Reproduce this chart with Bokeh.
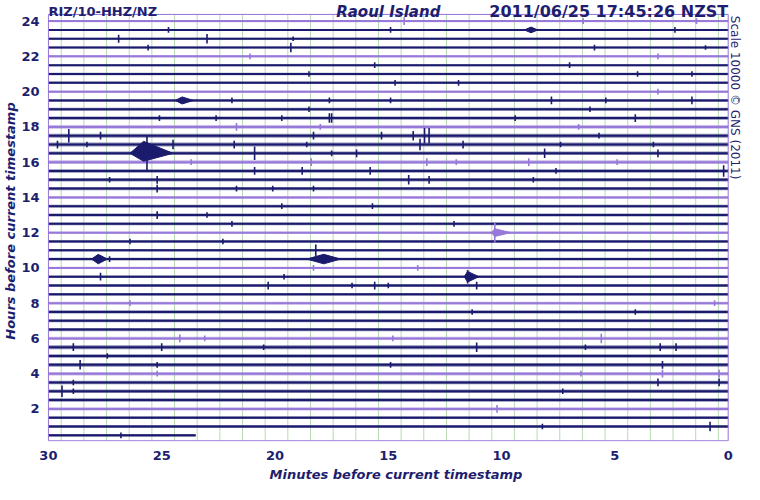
from bokeh.plotting import figure
from bokeh.models import Range1d, FixedTicker, ColumnDataSource
from bokeh.core.properties import value
from bokeh.embed import file_html
from bokeh.resources import INLINE

# ---------------- texts ----------------
station = "RIZ/10-HHZ/NZ"
place = "Raoul Island"
stamp = "2011/06/25 17:45:26 NZST"
scale_note = "Scale 10000 \u00a9 GNS (2011)"
x_title = "Minutes before current timestamp"
y_title = "Hours before current timestamp"
stamp_seconds = 26  # seconds past the minute of the timestamp (minute grid offset)

x_tick_values = [30, 25, 20, 15, 10, 5, 0]
y_tick_values = [2, 4, 6, 8, 10, 12, 14, 16, 18, 20, 22, 24]

# ---------------- traces (one per half hour) ----------------
trace_hours = [24.0, 23.5, 23.0, 22.5, 22.0, 21.5, 21.0, 20.5, 20.0, 19.5, 19.0, 18.5,
               18.0, 17.5, 17.0, 16.5, 16.0, 15.5, 15.0, 14.5, 14.0, 13.5, 13.0, 12.5,
               12.0, 11.5, 11.0, 10.5, 10.0, 9.5, 9.0, 8.5, 8.0, 7.5, 7.0, 6.5,
               6.0, 5.5, 5.0, 4.5, 4.0, 3.5, 3.0, 2.5, 2.0, 1.5, 1.0, 0.5]
# half width of the background noise band (hours)
trace_noise = [0.07, 0.06, 0.06, 0.06, 0.07, 0.06, 0.07, 0.07, 0.07, 0.08, 0.08, 0.09,
               0.10, 0.11, 0.11, 0.10, 0.11, 0.10, 0.10, 0.09, 0.08, 0.08, 0.08, 0.08,
               0.07, 0.08, 0.07, 0.08, 0.07, 0.07, 0.08, 0.08, 0.08, 0.09, 0.09, 0.09,
               0.09, 0.11, 0.10, 0.11, 0.10, 0.10, 0.10, 0.10, 0.09, 0.08, 0.09, 0.08]
# minute (before timestamp) where each trace stops
trace_end = [0.0] * 47 + [23.5]

# ---------------- isolated spikes: trace, minute, half amplitude (hours) ----------------
spike_hour = [23.5, 23.0, 23.0, 22.5, 22.0, 19.5, 24.0, 23.5, 23.0, 22.5, 21.5, 21.0,
              20.5, 20.5, 19.5, 19.5, 19.0, 18.5, 24.0, 24.0, 23.5, 23.5, 22.5, 22.5,
              22.0, 21.5, 21.0, 21.0, 20.0, 19.5, 19.5, 19.5, 19.0, 18.5, 18.5, 18.5,
              18.5, 18.0, 17.5, 17.5, 17.0, 17.0, 17.0, 17.0, 16.5, 16.0, 16.5, 15.5,
              15.0, 15.0, 18.5, 18.5, 18.0, 17.5, 17.5, 17.5, 17.5, 17.5, 17.0, 17.0,
              17.0, 16.5, 16.5, 16.0, 16.0, 16.0, 15.5, 15.5, 15.0, 15.0, 18.0, 17.5,
              17.0, 17.0, 16.5, 16.5, 16.0, 16.0, 15.5, 15.5, 15.0, 14.5, 14.5, 14.5,
              14.5, 13.5, 13.5, 13.0, 13.0, 12.5, 12.5, 11.5, 11.5, 11.0, 10.5, 10.0,
              10.0, 9.5, 9.5, 9.0, 9.0, 9.0, 9.0, 8.0, 6.0, 6.0, 5.5, 5.5,
              5.5, 5.0, 4.5, 4.5, 9.0, 8.0, 7.5, 7.5, 6.0, 6.0, 5.5, 5.5,
              5.5, 5.5, 4.5, 4.0, 3.5, 3.0, 3.0, 0.5, 4.5, 4.0, 4.0, 4.0,
              3.5, 3.5, 3.0, 2.0, 1.0, 1.0, 12.0, 9.5]
spike_min = [24.7, 26.9, 23.0, 25.6, 21.1, 21.9, 14.3, 14.9, 19.2, 19.3, 15.6, 18.5,
             14.7, 11.9, 17.6, 14.9, 18.5, 17.6, 6.4, 1.4, 8.7, 2.35, 5.9, 1.0,
             3.1, 7.0, 4.0, 1.6, 3.1, 7.8, 5.4, 1.6, 6.1, 9.4, 4.1, 25.1,
             22.6, 21.7, 29.1, 27.7, 29.6, 28.3, 24.5, 21.8, 20.9, 23.7, 25.65, 20.9,
             27.3, 25.2, 19.7, 17.5, 18.0, 18.3, 15.3, 13.9, 13.4, 13.2, 18.6, 13.6,
             11.7, 17.5, 16.4, 18.4, 13.3, 12.0, 18.8, 15.8, 14.1, 13.2, 6.6, 5.7,
             7.4, 3.3, 8.1, 3.1, 8.8, 4.9, 7.6, 0.2, 8.6, 25.2, 21.7, 20.1,
             18.3, 19.7, 15.7, 25.2, 23.0, 12.1, 21.9, 26.4, 22.3, 18.2, 27.3, 18.3,
             13.7, 27.7, 19.6, 15.0, 20.3, 16.6, 15.6, 26.4, 24.2, 23.1, 28.9, 25.0,
             20.5, 27.4, 28.6, 25.2, 11.1, 0.6, 11.3, 4.1, 5.6, 14.8, 11.1, 6.3,
             3.0, 2.3, 14.9, 25.2, 28.9, 29.4, 28.9, 26.8, 2.9, 2.9, 0.4, 6.5,
             3.1, 0.4, 7.3, 10.2, 8.2, 0.8, 10.3, 11.5]
spike_amp = [0.16, 0.22, 0.27, 0.16, 0.16, 0.16, 0.22, 0.16, 0.13, 0.27, 0.16, 0.16,
             0.16, 0.16, 0.16, 0.16, 0.16, 0.27, 0.16, 0.16, 0.16, 0.16, 0.16, 0.13,
             0.16, 0.16, 0.16, 0.16, 0.16, 0.22, 0.16, 0.22, 0.16, 0.16, 0.22, 0.16,
             0.16, 0.22, 0.38, 0.22, 0.22, 0.16, 0.27, 0.22, 0.38, 0.16, 1.0, 0.22,
             0.16, 0.22, 0.16, 0.27, 0.16, 0.22, 0.22, 0.27, 0.44, 0.44, 0.16, 0.33,
             0.22, 0.16, 0.22, 0.22, 0.22, 0.16, 0.22, 0.22, 0.27, 0.22, 0.16, 0.16,
             0.16, 0.16, 0.27, 0.22, 0.22, 0.16, 0.16, 0.33, 0.16, 0.22, 0.16, 0.16,
             0.16, 0.16, 0.16, 0.22, 0.16, 0.16, 0.16, 0.16, 0.16, 0.33, 0.16, 0.16,
             0.16, 0.22, 0.16, 0.16, 0.22, 0.16, 0.22, 0.16, 0.22, 0.16, 0.22, 0.22,
             0.16, 0.16, 0.27, 0.16, 0.22, 0.16, 0.16, 0.16, 0.27, 0.16, 0.27, 0.16,
             0.22, 0.22, 0.16, 0.16, 0.16, 0.33, 0.16, 0.16, 0.22, 0.22, 0.22, 0.16,
             0.22, 0.22, 0.16, 0.22, 0.16, 0.27, 0.58, 0.38]

# ---------------- earthquake wave trains: trace, start, peak, end (minutes), up/down (hours) ----------------
ev_hour = [16.5, 12.0, 10.5, 10.5, 9.5, 19.5, 23.5]
ev_start = [26.4, 10.45, 28.1, 18.6, 11.65, 24.4, 9.0]
ev_peak = [25.8, 10.3, 27.8, 17.85, 11.5, 24.1, 8.7]
ev_end = [24.5, 9.6, 27.4, 17.1, 11.0, 23.6, 8.4]
ev_up = [0.68, 0.22, 0.27, 0.27, 0.3, 0.2, 0.16]
ev_down = [0.45, 0.22, 0.27, 0.27, 0.3, 0.2, 0.16]

# ---------------- styles ----------------
NAVY = "#1b1b6e"
LAVENDER = "#9679d8"
TEXT = "#1e1e6e"
FRAME = "#9272d6"
GRID = "#b8dab2"
FONT = "DejaVu Sans"


def trace_color(h):
    return LAVENDER if h % 2 == 0 else NAVY


# plotted window (minutes 30..0, hours y_lo..y_hi) and the room kept for the header / side note
x_left, x_right = 30.0, 0.0
y_lo, y_hi = 0.19, 24.38
x_room_left, x_room_right = 30.04, -0.72
y_room_lo, y_room_hi = 0.15, 25.17

p = figure(width=744, height=484, x_range=Range1d(x_room_left, x_room_right),
           y_range=Range1d(y_room_lo, y_room_hi),
           output_backend="svg", toolbar_location=None,
           min_border_left=0, min_border_right=0, min_border_top=0, min_border_bottom=0)
p.background_fill_color = "white"
p.border_fill_color = "white"
p.outline_line_color = None
p.xgrid.visible = False
p.ygrid.visible = False

# axes
for ax in (p.xaxis, p.yaxis):
    ax.axis_line_color = None
    ax.major_tick_line_color = None
    ax.minor_tick_line_color = None
    ax.major_label_text_font = FONT
    ax.major_label_text_font_style = "bold"
    ax.major_label_text_font_size = "13px"
    ax.major_label_text_color = TEXT
    ax.axis_label_text_font = FONT
    ax.axis_label_text_font_style = "bold italic"
    ax.axis_label_text_font_size = "13px"
    ax.axis_label_text_color = TEXT
p.xaxis.ticker = FixedTicker(ticks=x_tick_values)
p.yaxis.ticker = FixedTicker(ticks=y_tick_values)
p.xaxis.axis_label = x_title
p.yaxis.axis_label = y_title
p.xaxis.major_label_standoff = 3
p.yaxis.major_label_standoff = 2
p.xaxis.axis_label_standoff = 4
p.yaxis.axis_label_standoff = 0

# minute grid aligned with clock minutes
grid_x = [m + stamp_seconds / 60 for m in range(30)]
p.segment(x0=grid_x, y0=[y_lo] * len(grid_x), x1=grid_x, y1=[y_hi] * len(grid_x),
          line_color=GRID, line_width=1)

# noise bands
colors = [trace_color(h) for h in trace_hours]
band = ColumnDataSource(dict(
    left=trace_end, right=[x_left] * len(trace_hours),
    bottom=[h - w for h, w in zip(trace_hours, trace_noise)],
    top=[h + w for h, w in zip(trace_hours, trace_noise)],
    color=colors))
p.quad(left="left", right="right", bottom="bottom", top="top", source=band,
       fill_color="color", fill_alpha=0.5, line_color=None)

core = ColumnDataSource(dict(x0=[x_left] * len(trace_hours), x1=trace_end, y=trace_hours, color=colors))
p.segment(x0="x0", y0="y", x1="x1", y1="y", source=core, line_color="color", line_width=2.0)

# spikes
spikes = ColumnDataSource(dict(
    x=spike_min,
    y0=[h - a for h, a in zip(spike_hour, spike_amp)],
    y1=[h + a for h, a in zip(spike_hour, spike_amp)],
    color=[trace_color(h) for h in spike_hour]))
p.segment(x0="x", y0="y0", x1="x", y1="y1", source=spikes, line_color="color", line_width=1.6)

# wave trains
ev_xs = [[s, pk, e, pk] for s, pk, e in zip(ev_start, ev_peak, ev_end)]
ev_ys = [[h, h + u, h, h - d] for h, u, d in zip(ev_hour, ev_up, ev_down)]
events = ColumnDataSource(dict(xs=ev_xs, ys=ev_ys, color=[trace_color(h) for h in ev_hour]))
p.patches(xs="xs", ys="ys", source=events, fill_color="color", line_color="color", line_width=1)

# frame of the drum
p.quad(left=[x_left], right=[x_right], bottom=[y_lo], top=[y_hi],
       fill_color=None, line_color=FRAME, line_width=1)

# header texts
head_y = y_hi + 0.14
p.text(x=[x_left], y=[head_y], text=[station], text_align="left", text_baseline="alphabetic",
       text_font=value(FONT), text_font_style="bold", text_font_size="13px", text_color=TEXT)
p.text(x=[(x_left + x_right) / 2], y=[head_y], text=[place], text_align="center",
       text_baseline="alphabetic", text_font=value(FONT), text_font_style="bold italic",
       text_font_size="15px", text_color=TEXT)
p.text(x=[x_right], y=[head_y], text=[stamp], text_align="right", text_baseline="alphabetic",
       text_font=value(FONT), text_font_style="bold", text_font_size="16px", text_color=TEXT)
p.text(x=[x_right - 0.32], y=[y_hi - 0.08], text=[scale_note], angle=-1.5707963,
       text_align="left", text_baseline="middle", text_font=value(FONT),
       text_font_size="12px", text_color=TEXT)

open("out.html", "w").write(file_html(p, INLINE))
